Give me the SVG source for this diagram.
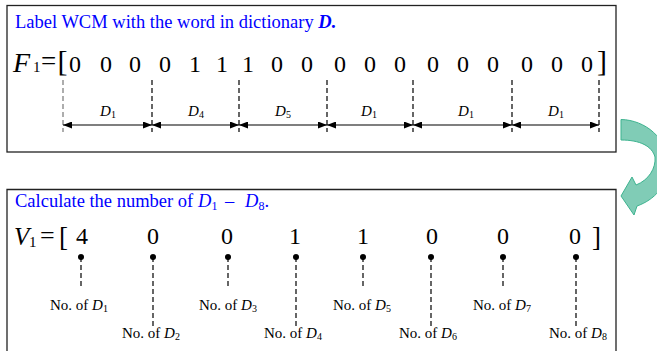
<svg xmlns="http://www.w3.org/2000/svg" width="657" height="351" viewBox="0 0 657 351">
<style>
text{font-family:"Liberation Serif","Times New Roman",serif;fill:#000}
.t{fill:#0000ff;font-size:18.5px}
.d{font-size:24px;text-anchor:middle}
.i{font-style:italic}
.lab{font-size:15px;text-anchor:middle}
.box{fill:none;stroke:#222;stroke-width:1.3}
.dash{stroke:#000;stroke-width:1.2;stroke-dasharray:5,3;fill:none}
.seg{stroke:#000;stroke-width:1.2;marker-start:url(#ah);marker-end:url(#ah)}
</style>
<defs>
<marker id="ah" markerUnits="userSpaceOnUse" markerWidth="9" markerHeight="7" refX="9" refY="3.5" orient="auto-start-reverse">
<path d="M0,0 L9,3.5 L0,7 z" fill="#000"/>
</marker>
</defs>
<rect width="657" height="351" fill="#fff"/>

<g id="top-panel">
<rect class="box" x="7" y="5.5" width="609" height="146.5"/>
<text class="t" x="15" y="28">Label WCM with the word in dictionary <tspan font-weight="bold" font-style="italic">D.</tspan></text>
<text x="13" y="72" font-size="28" class="i">F</text>
<text x="33" y="72" font-size="15">1</text>
<text x="41" y="70" font-size="27">=</text>
<text x="57.5" y="70.5" font-size="30">[</text>
<text x="607" y="70.5" font-size="30" text-anchor="end">]</text>
<g id="F1-values">
<text class="d" x="75" y="72">0</text>
<text class="d" x="106" y="72">0</text>
<text class="d" x="135" y="72">0</text>
<text class="d" x="165" y="72">0</text>
<text class="d" x="195" y="72">1</text>
<text class="d" x="222" y="72">1</text>
<text class="d" x="248" y="72">1</text>
<text class="d" x="277" y="72">0</text>
<text class="d" x="307" y="72">0</text>
<text class="d" x="340" y="72">0</text>
<text class="d" x="370" y="72">0</text>
<text class="d" x="400" y="72">0</text>
<text class="d" x="433" y="72">0</text>
<text class="d" x="463" y="72">0</text>
<text class="d" x="493" y="72">0</text>
<text class="d" x="527" y="72">0</text>
<text class="d" x="557" y="72">0</text>
<text class="d" x="587" y="72">0</text>
</g>
</g>

<g id="connectors">
<g id="dividers">
<line class="dash" x1="63" y1="80" x2="63" y2="132" style="stroke:#777"/>
<line class="dash" x1="152" y1="80" x2="152" y2="132"/>
<line class="dash" x1="239" y1="80" x2="239" y2="132"/>
<line class="dash" x1="327" y1="80" x2="327" y2="132"/>
<line class="dash" x1="413" y1="80" x2="413" y2="132"/>
<line class="dash" x1="512" y1="80" x2="512" y2="132"/>
<line class="dash" x1="599" y1="80" x2="599" y2="132"/>
</g>
<g id="segments">
<line class="seg" x1="63" y1="125" x2="152" y2="125"/>
<line class="seg" x1="152" y1="125" x2="239" y2="125"/>
<line class="seg" x1="239" y1="125" x2="327" y2="125"/>
<line class="seg" x1="327" y1="125" x2="413" y2="125"/>
<line class="seg" x1="413" y1="125" x2="512" y2="125"/>
<line class="seg" x1="512" y1="125" x2="599" y2="125"/>
</g>
<g id="count-leaders">
<line class="dash" x1="81" y1="257" x2="81" y2="288"/>
<line class="dash" x1="153" y1="257" x2="153" y2="326"/>
<line class="dash" x1="228" y1="257" x2="228" y2="288"/>
<line class="dash" x1="296" y1="257" x2="296" y2="326"/>
<line class="dash" x1="363" y1="257" x2="363" y2="288"/>
<line class="dash" x1="431" y1="257" x2="431" y2="326"/>
<line class="dash" x1="503" y1="257" x2="503" y2="288"/>
<line class="dash" x1="576" y1="257" x2="576" y2="326"/>
</g>
<g id="dots" fill="#000">
<circle cx="81" cy="257" r="3"/>
<circle cx="153" cy="257" r="3"/>
<circle cx="228" cy="257" r="3"/>
<circle cx="296" cy="257" r="3"/>
<circle cx="363" cy="257" r="3"/>
<circle cx="431" cy="257" r="3"/>
<circle cx="503" cy="257" r="3"/>
<circle cx="576" cy="257" r="3"/>
</g>
</g>

<g id="segment-labels">
<text class="lab" x="108" y="116"><tspan class="i">D</tspan><tspan font-size="10" dy="2">1</tspan></text>
<text class="lab" x="196" y="116"><tspan class="i">D</tspan><tspan font-size="10" dy="2">4</tspan></text>
<text class="lab" x="283" y="116"><tspan class="i">D</tspan><tspan font-size="10" dy="2">5</tspan></text>
<text class="lab" x="369" y="116"><tspan class="i">D</tspan><tspan font-size="10" dy="2">1</tspan></text>
<text class="lab" x="466" y="116"><tspan class="i">D</tspan><tspan font-size="10" dy="2">1</tspan></text>
<text class="lab" x="556" y="116"><tspan class="i">D</tspan><tspan font-size="10" dy="2">1</tspan></text>
</g>

<g id="arrow-between">
<path d="M621,119.5 C645,120 668,138 668,165 C668,186 654,200 637,206 L634,215 L621,196 L632,177 L636,185 C649,180 656,168 655,157 C652,146 640,140 621,140 Z" fill="#80ccb6" stroke="#3db38f" stroke-width="1"/>
</g>

<g id="bottom-panel">
<path class="box" d="M7,360 V189.5 H616 V360"/>
<text class="t" y="207" style="font-size:18.5px"><tspan x="15">Calculate the number of</tspan><tspan x="198" class="i">D</tspan><tspan font-size="12" dy="3">1</tspan><tspan x="225" dy="-3">–</tspan><tspan x="245" class="i">D</tspan><tspan font-size="12" dy="3">8</tspan><tspan dy="-3">.</tspan></text>
<text x="14" y="245" font-size="25" class="i">V</text>
<text x="29" y="247" font-size="15">1</text>
<text x="40" y="244" font-size="26">=</text>
<text x="59" y="246" font-size="27">[</text>
<text x="601" y="246" font-size="27" text-anchor="end">]</text>
<g id="V1-values">
<text class="d" x="82" y="244">4</text>
<text class="d" x="153" y="244">0</text>
<text class="d" x="227" y="244">0</text>
<text class="d" x="295" y="244">1</text>
<text class="d" x="363" y="244">1</text>
<text class="d" x="432" y="244">0</text>
<text class="d" x="503" y="244">0</text>
<text class="d" x="575" y="244">0</text>
</g>
<g id="count-labels">
<text class="lab" x="79" y="310">No. of <tspan class="i">D</tspan><tspan font-size="10" dy="2">1</tspan></text>
<text class="lab" x="151" y="338">No. of <tspan class="i">D</tspan><tspan font-size="10" dy="2">2</tspan></text>
<text class="lab" x="228" y="310">No. of <tspan class="i">D</tspan><tspan font-size="10" dy="2">3</tspan></text>
<text class="lab" x="293" y="338">No. of <tspan class="i">D</tspan><tspan font-size="10" dy="2">4</tspan></text>
<text class="lab" x="362" y="310">No. of <tspan class="i">D</tspan><tspan font-size="10" dy="2">5</tspan></text>
<text class="lab" x="428" y="338">No. of <tspan class="i">D</tspan><tspan font-size="10" dy="2">6</tspan></text>
<text class="lab" x="502" y="310">No. of <tspan class="i">D</tspan><tspan font-size="10" dy="2">7</tspan></text>
<text class="lab" x="578" y="338">No. of <tspan class="i">D</tspan><tspan font-size="10" dy="2">8</tspan></text>
</g>
</g>
</svg>
